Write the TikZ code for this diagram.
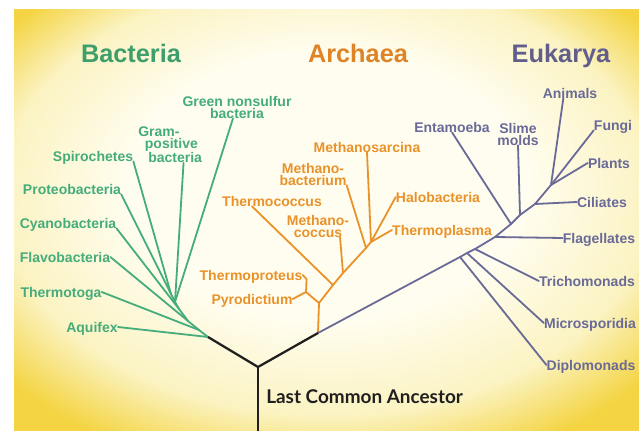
\documentclass[tikz,border=0pt]{standalone}
\usepackage{fontspec}
\setmainfont{Liberation Sans}
\newfontfamily\ancestorfont{Lato}
\usepackage{tikz}

\definecolor{bactgreen}{HTML}{45AC7B}
\definecolor{bacttitle}{HTML}{3E9E6C}
\definecolor{archorange}{HTML}{E9922A}
\definecolor{archtitle}{HTML}{DF8426}
\definecolor{eukpurple}{HTML}{6A6A98}
\definecolor{euktitle}{HTML}{615E8E}
\definecolor{bgcore}{HTML}{FFFDEF}
\definecolor{bgmid}{HTML}{FBF3C2}
\definecolor{bgrim}{HTML}{F4D442}
\pgfdeclareradialshading{paleglow}{\pgfpoint{0bp}{6bp}}{color(0bp)=(bgcore); color(16bp)=(bgcore); color(26bp)=(bgmid); color(33bp)=(bgrim); color(50bp)=(bgrim)}

\begin{document}
\begin{tikzpicture}[x=0.75pt,y=-0.75pt,
    lab/.style={font=\bfseries\fontsize{10.5}{9}\selectfont,inner sep=0pt,text depth=0pt,align=center},
    bact/.style={lab,text=bactgreen},
    arch/.style={lab,text=archorange},
    euk/.style={lab,text=eukpurple},
    realmtitle/.style={font=\bfseries\fontsize{19}{19}\selectfont,anchor=base,inner sep=0pt},
    twig/.style={line width=1.35pt,line cap=round,line join=round},
    trunk/.style={line width=1.7pt,line cap=butt,line join=round,black!88}]
  \useasboundingbox (0,0) rectangle (639,431);
  \shade[shading=paleglow] (14,10) rectangle (639,431);

  \node[realmtitle,text=bacttitle] (bacteria) at (131,63) {Bacteria};
  \node[realmtitle,text=archtitle] (archaea) at (358,63) {Archaea};
  \node[realmtitle,text=euktitle] (eukarya) at (561,63) {Eukarya};

  \foreach \nm/\x/\y in {root/258/367,stem/258/431,
      b0/208/337,b1/199/330,b2/188/321,b3/179/309,b4/175/302,b5/171/294,
      a0/318/333,a1/319/303,a2/306/292,a3/333/285,a4/343/273,a5/366/248,a6/371/242,
      e1/460/257,e2/467/253,e3/475/249,e4/495/237,e5/511/224,e6/520/215,e7/535/204,e8/551/185}
    {\coordinate (\nm) at (\x,\y);}

  \foreach \nm/\x/\y/\txt in {gnb/237/107/{Green nonsulfur\\bacteria},spiro/93/156/Spirochetes,
      proteo/72/189/Proteobacteria,cyano/68/223/Cyanobacteria,flavo/65/257/Flavobacteria,
      thermot/61/292/Thermotoga,aquifex/92/327/Aquifex}
    {\node[bact] (\nm) at (\x,\y) {\txt};}
  \node[bact,align=left,anchor=north west] (gram) at (138,126) {Gram-\\\hspace*{5pt}positive\\\hspace*{7.5pt}bacteria};

  \foreach \nm/\x/\y/\txt in {msarc/367/147/Methanosarcina,mbact/313/174/{Methano-\\bacterium},
      tcoc/272/201/Thermococcus,mcoc/318/226/{Methano-\\coccus},halo/438/197/Halobacteria,
      tplas/442/230/Thermoplasma,tprot/251/275/Thermoproteus,pyro/252/299/Pyrodictium}
    {\node[arch] (\nm) at (\x,\y) {\txt};}

  \foreach \nm/\x/\y/\txt in {entam/452/127/Entamoeba,slime/518/134/{Slime\\molds},
      animals/570/93/Animals,fungi/613/125/Fungi,plants/609/163/Plants,cili/602/202/Ciliates,
      flag/599/238/Flagellates,tricho/587/281/Trichomonads,micro/590/323/Microsporidia,
      diplo/591/365/Diplomonads}
    {\node[euk] (\nm) at (\x,\y) {\txt};}

  \node[anchor=west,inner sep=0pt,text depth=0pt,text=black!88,
        font=\ancestorfont\bfseries\fontsize{14.2}{15}\selectfont] (lca) at (266,397) {Last Common Ancestor};

  \draw[twig,bactgreen] (b0) -- (b1) -- (b2) -- (b3) -- (b4) -- (b5);
  \foreach \a/\b in {aquifex.east/b0,thermot.east/b1,flavo.east/b2,cyano.south east/b3,
      proteo.south east/b5,spiro.south east/b5}
    {\draw[twig,bactgreen] (\a) -- (\b);}
  \draw[twig,bactgreen] ([xshift=-3pt]gnb.south) -- (b4);
  \draw[twig,bactgreen] ([xshift=-14pt]gram.south east) -- (b4);

  \draw[twig,archorange] (a0) -- (a1) -- (a2);
  \draw[twig,archorange] (a1) -- (a3) -- (a4) -- (a5) -- (a6);
  \draw[twig,archorange] (tprot.east) -- ++(4,4) -- (a2);
  \foreach \a/\b in {pyro.east/a2,mbact.south east/a5,msarc.south/a6,halo.west/a6,tplas.west/a6}
    {\draw[twig,archorange] (\a) -- (\b);}
  \draw[twig,archorange] ([xshift=-15pt]tcoc.south) -- (a3);
  \draw[twig,archorange] ([xshift=-7pt]mcoc.south east) -- (a4);

  \draw[twig,eukpurple] (a0) -- (e1) -- (e2) -- (e3) -- (e4) -- (e5) -- (e6) -- (e7) -- (e8);
  \foreach \a/\b in {diplo.west/e1,micro.west/e2,tricho.west/e3,flag.west/e4,entam.south/e5,
      slime.south/e6,cili.west/e7,plants.west/e8,fungi.south west/e8}
    {\draw[twig,eukpurple] (\a) -- (\b);}
  \draw[twig,eukpurple] ([xshift=-5pt]animals.south) -- (e8);

  \draw[trunk] (stem) -- (root);
  \draw[trunk] (b0) -- (root) -- (a0);
\end{tikzpicture}
\end{document}
